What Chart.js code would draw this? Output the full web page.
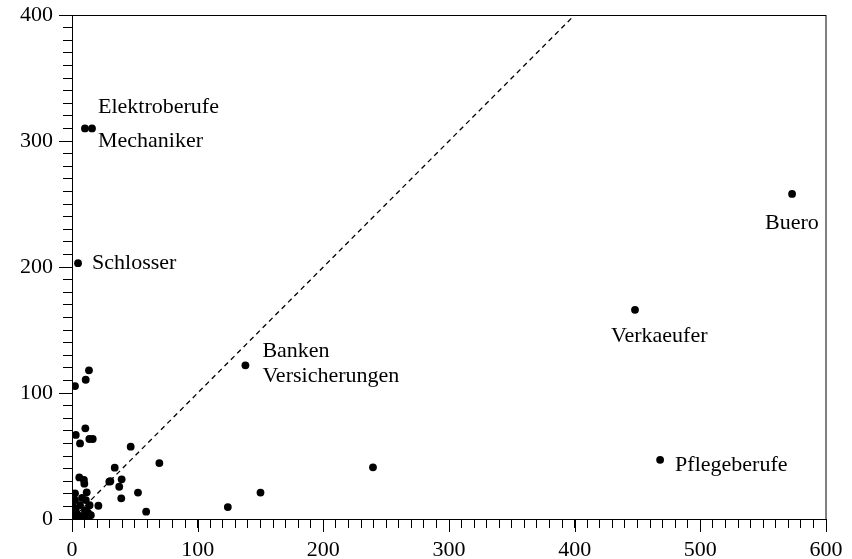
<!DOCTYPE html>
<html>
<head>
<meta charset="utf-8">
<script src="https://cdn.jsdelivr.net/npm/chart.js@4"></script>
<style>
  html, body { margin: 0; padding: 0; background: #ffffff; }
  .chart-wrap { width: 852px; height: 559px; }
</style>
</head>
<body>
<div class="chart-wrap"><canvas id="chart" width="852" height="559"></canvas></div>
<script>
// x / y values of every occupation
const pointsX = [
  573, 448, 468, 138, 10.3, 15.9, 4.8, 239.5, 150, 124,
  59, 52.5, 46.7, 69.5, 34, 30.5, 39.5, 37.6, 39.2, 21,
  13.5, 10.9, 2.4, 10.6, 3, 6.4, 13.8, 16.5,
  5.8, 9.5, 9.8, 11.7, 2.4, 29.7,
  2.4, 6.4, 10.3, 12.7, 4.8, 1.6, 14, 8, 11, 3, 8.8, 0.8, 15, 12, 5.6, 0.5
];
const pointsY = [
  258, 166, 47, 122, 310, 310, 203, 41, 21, 9.5,
  5.8, 21, 57.4, 44.4, 40.7, 30, 31.5, 25.6, 16.4, 10.5,
  118, 110.5, 105.5, 72, 66.7, 60, 63.5, 63.5,
  33, 31, 28, 21.2, 20.4, 29.6,
  15, 11, 7, 5, 3, 1.6, 11, 16.7, 15, 8, 2.4, 5.5, 3, 1, 0.5, 10
];

// diagonal reference line y = x
const diagX = [0, 400];
const diagY = [0, 400];

// named points
const labelNames = ["Elektroberufe", "Mechaniker", "Schlosser", "Banken", "Versicherungen",
  "Verkaeufer", "Buero", "Pflegeberufe"];
const labelX = [15.9, 15.9, 4.8, 138, 138, 448, 573, 468];
const labelY = [310, 310, 203, 122, 122, 166, 258, 47];
// pixel offsets of the texts from their points
const labelOffsets = [[6, -21], [6, 13], [14, 0], [17, -14], [17, 11], [-24, 26], [-27, 29], [15, 5]];

const xTicks = [0, 100, 200, 300, 400, 500, 600];
const yTicks = [0, 100, 200, 300, 400];

const FONT = "'Liberation Serif', 'Times New Roman', serif";

// frame, longer major ticks and text labels
const extras = {
  id: "extras",
  afterDraw(chart) {
    const { ctx, chartArea, scales } = chart;
    ctx.save();
    ctx.strokeStyle = "#000";
    ctx.lineWidth = 1;
    ctx.strokeRect(chartArea.left + 0.5, chartArea.top + 0.5,
      chartArea.right - chartArea.left - 0.5, chartArea.bottom - chartArea.top);
    //major ticks
    ctx.beginPath();
    xTicks.forEach(v => {
      const px = Math.round(scales.x.getPixelForValue(v)) + 0.5;
      ctx.moveTo(px, chartArea.bottom);
      ctx.lineTo(px, chartArea.bottom + 13);
    });
    yTicks.forEach(v => {
      const py = Math.round(scales.y.getPixelForValue(v)) + 0.5;
      ctx.moveTo(chartArea.left, py);
      ctx.lineTo(chartArea.left - 13, py);
    });
    ctx.stroke();
    //text labels
    ctx.fillStyle = "#000";
    ctx.font = "22px " + FONT;
    ctx.textAlign = "left";
    ctx.textBaseline = "middle";
    labelNames.forEach((name, i) => {
      const px = scales.x.getPixelForValue(labelX[i]) + labelOffsets[i][0];
      const py = scales.y.getPixelForValue(labelY[i]) + labelOffsets[i][1];
      ctx.fillText(name, px, py);
    });
    ctx.restore();
  }
};

new Chart(document.getElementById("chart"), {
  type: "scatter",
  data: {
    datasets: [
      {
        data: pointsX.map((x, i) => ({ x: x, y: pointsY[i] })),
        pointRadius: 3.9,
        pointHoverRadius: 3.9,
        backgroundColor: "#000",
        borderWidth: 0,
      },
      {
        type: "line",
        data: diagX.map((x, i) => ({ x: x, y: diagY[i] })),
        borderColor: "#000",
        borderWidth: 1.3,
        borderDash: [5, 4],
        pointRadius: 0,
        fill: false,
      },
    ],
  },
  plugins: [extras],
  options: {
    responsive: false,
    animation: false,
    layout: { padding: { left: 0, top: 15, right: 26, bottom: 0 } },
    plugins: {
      legend: { display: false },
      tooltip: { enabled: false },
    },
    scales: {
      x: {
        type: "linear",
        min: 0,
        max: 600,
        ticks: {
          stepSize: 10,
          autoSkip: false,
          maxRotation: 0,
          color: "#000",
          font: { family: FONT, size: 22 },
          padding: 9,
          callback: v => (v % 100 === 0 ? v : ""),
        },
        grid: { drawOnChartArea: false, tickLength: 9, color: "#000", tickWidth: 1 },
        border: { color: "#000", width: 1 },
        afterFit: s => { s.height = 40; s.paddingLeft = 0; s.paddingRight = 0; },
      },
      y: {
        type: "linear",
        min: 0,
        max: 400,
        ticks: {
          stepSize: 10,
          autoSkip: false,
          color: "#000",
          font: { family: FONT, size: 22 },
          padding: 10,
          callback: v => (v % 100 === 0 ? v : ""),
        },
        grid: { drawOnChartArea: false, tickLength: 9, color: "#000", tickWidth: 1 },
        border: { color: "#000", width: 1 },
        afterFit: s => { s.width = 72; s.paddingTop = 0; s.paddingBottom = 0; },
      },
    },
  },
});
</script>
</body>
</html>
